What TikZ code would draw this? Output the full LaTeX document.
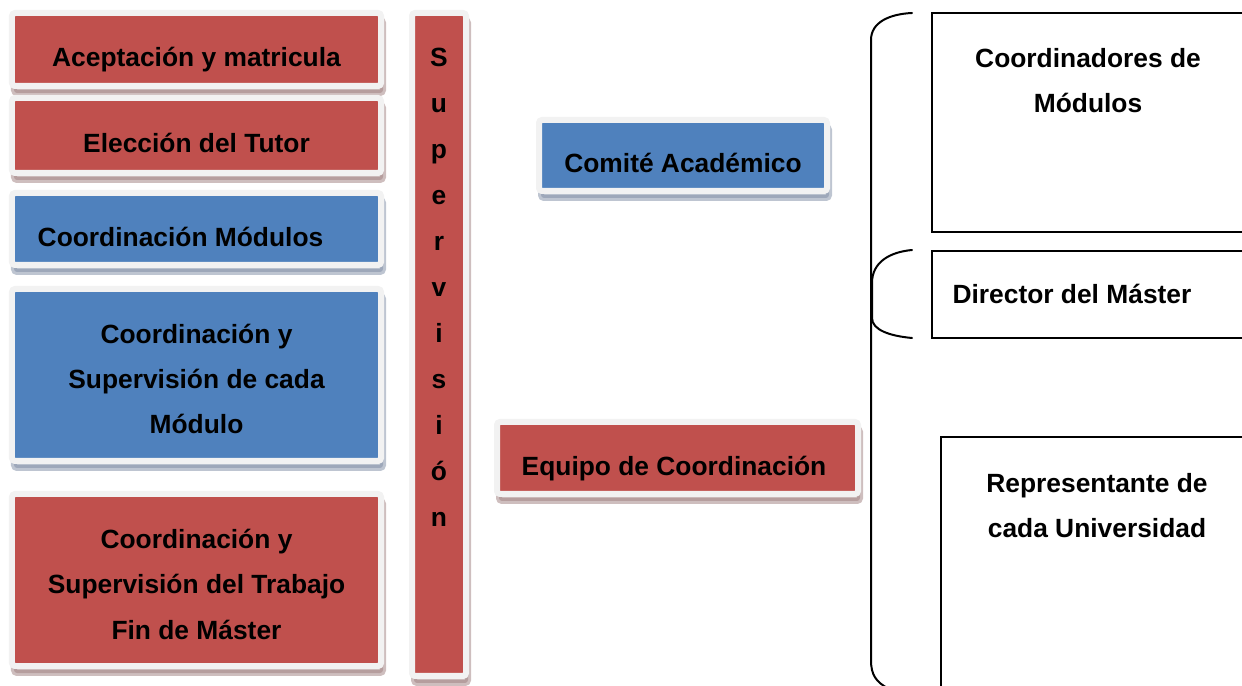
\documentclass[tikz,border=0pt]{standalone}
\usepackage{fontspec}
\setmainfont{Liberation Sans}
\usepackage{xcolor}
\usepackage{tikz}
\usetikzlibrary{shapes,positioning,shadows}

\definecolor{boxred}{HTML}{C0504D}
\definecolor{boxblue}{HTML}{4F81BD}
\definecolor{framegrey}{HTML}{F2F2F2}
\definecolor{redshade}{HTML}{9E7E7E}
\definecolor{blueshade}{HTML}{7E8CA4}

\newcommand{\orgfont}{\fontsize{15}{25.8}\selectfont\bfseries}
\newcommand{\letterfont}{\fontsize{15}{26.2}\selectfont\bfseries}

\tikzset{
    orgbox/.style={rectangle, draw=framegrey, line width=0.12cm, rounded corners=0.06cm, outer sep=0pt, font=\orgfont, text height=0.7cm, text depth=0pt},
    redbox/.style={orgbox, fill=boxred, drop shadow={shadow xshift=0.04cm, shadow yshift=-0.14cm, fill=redshade, draw=redshade, line width=0.12cm}},
    bluebox/.style={orgbox, fill=boxblue, drop shadow={shadow xshift=0.04cm, shadow yshift=-0.14cm, fill=blueshade, draw=blueshade, line width=0.12cm}},
    leftcol/.style={minimum width=7.38cm},
    threeline/.style={align=center, text height=2.36cm, text depth=0pt},
    plainbox/.style={rectangle, draw, line width=0.04cm, outer sep=0pt, font=\orgfont, minimum width=6.24cm, align=center, text height=0.38cm, text depth=0pt},
    brace/.style={draw, line width=0.04cm, line cap=round}
}

\begin{document}
\begin{tikzpicture}
    \path[use as bounding box] (0,0) rectangle (24.84,-13.72);

    % left column
    \node (acep) [redbox, leftcol, minimum height=1.46cm] at (3.93,-0.99) {Aceptación y matricula};
    \node (tutor) [redbox, leftcol, below=0.24cm of acep, minimum height=1.5cm] {Elección del Tutor};
    \node (coordmod) [bluebox, leftcol, below=0.4cm of tutor, minimum height=1.44cm] {Coordinación Módulos\kern0.64cm};
    \node (coordsup) [bluebox, leftcol, threeline, below=0.48cm of coordmod, minimum height=3.44cm] {Coordinación y\\Supervisión de cada\\Módulo};
    \node (tfm) [redbox, leftcol, threeline, below=0.66cm of coordsup, minimum height=3.44cm] {Coordinación y\\Supervisión del Trabajo\\Fin de Máster};

    \node (superv) [redbox, right=0.62cm of acep.north east, anchor=north west, minimum width=1.08cm, minimum height=13.26cm,
        font=\letterfont, align=center, text height=7.3cm, text depth=0pt] {S\\u\\p\\e\\r\\v\\i\\s\\i\\ó\\n};

    % middle
    \node (comite) [bluebox, minimum width=5.76cm, minimum height=1.42cm] at (13.66,-3.11) {Comité Académico};
    \node (equipo) [redbox, minimum width=7.22cm, minimum height=1.44cm] at (13.55,-9.16) {Equipo de Coordinación\kern0.14cm};

    % right column
    \node (coordres) [plainbox, minimum height=4.38cm, text depth=0.78cm] at (21.76,-2.45) {Coordinadores de\\Módulos};
    \node (director) [plainbox, minimum height=1.74cm] at (21.76,-5.89) {Director del Máster\kern0.64cm};
    \node (repres) [plainbox, minimum height=5.26cm, text depth=1.62cm] at (21.94,-11.37) {Representante de\\cada Universidad};

    \draw [brace] (18.24,-0.26) .. controls (17.8,-0.28) and (17.42,-0.44) .. (17.42,-0.8)
        -- (17.42,-13.2) .. controls (17.42,-13.5) and (17.52,-13.64) .. (17.78,-13.78);
    \draw [brace] (18.24,-5.0) .. controls (17.8,-5.04) and (17.44,-5.24) .. (17.44,-5.66)
        -- (17.44,-6.36) .. controls (17.44,-6.6) and (17.8,-6.72) .. (18.24,-6.76);
\end{tikzpicture}
\end{document}
